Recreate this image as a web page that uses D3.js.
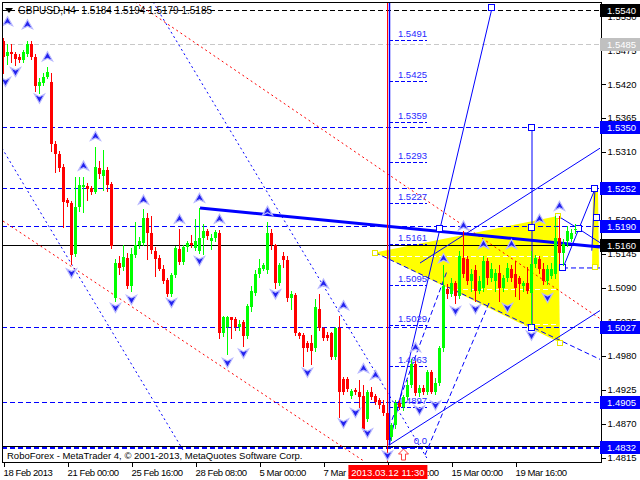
<!DOCTYPE html>
<html><head><meta charset="utf-8">
<script src="https://cdn.jsdelivr.net/npm/d3@7/dist/d3.min.js"></script>
<style>
html,body{margin:0;padding:0;background:#fff;}
svg{display:block;font-family:"Liberation Sans",Arial,sans-serif;}
</style></head><body>
<svg id="c" width="640" height="480"></svg>
<script>
// ---------- DATA (GBPUSD H4) ----------
const opens=[1.5489,1.5466,1.5472,1.5469,1.5464,1.5459,1.5468,1.5485,1.5464,1.5416,1.5421,1.5432,1.5424,1.5322,1.5306,1.5285,1.5232,1.5227,1.5145,1.5221,1.5253,1.5254,1.5251,1.5245,1.5284,1.5271,1.5280,1.5258,1.5074,1.5130,1.5124,1.5138,1.5093,1.5143,1.5160,1.5163,1.5203,1.5179,1.5150,1.5138,1.5121,1.5103,1.5080,1.5111,1.5153,1.5132,1.5156,1.5163,1.5155,1.5150,1.5171,1.5182,1.5166,1.5171,1.5179,1.5016,1.5027,1.5042,1.5040,1.5026,1.5034,1.5011,1.5058,1.5082,1.5113,1.5121,1.5118,1.5179,1.5160,1.5098,1.5142,1.5135,1.5074,1.5079,1.5016,1.5013,1.5000,1.5000,1.4992,1.5056,1.5024,1.5014,1.5016,1.4977,1.5024,1.4942,1.4942,1.4914,1.4924,1.4921,1.4914,1.4877,1.4921,1.4914,1.4908,1.4900,1.4887,1.4848,1.4868,1.4903,1.4896,1.4913,1.4932,1.4967,1.4919,1.4927,1.4921,1.4953,1.4921,1.4935,1.4992,1.5088,1.5080,1.5098,1.5077,1.5138,1.5137,1.5101,1.5118,1.5085,1.5090,1.5134,1.5105,1.5101,1.5114,1.5090,1.5106,1.5121,1.5113,1.5105,1.5093,1.5098,1.5082,1.5129,1.5137,1.5121,1.5101,1.5109,1.5113,1.5171,1.5146,1.5166,1.5169,1.5184];
const highs=[1.5495,1.5484,1.5484,1.5472,1.5469,1.5475,1.5489,1.5490,1.5468,1.5429,1.5437,1.5448,1.5437,1.5327,1.5311,1.5290,1.5235,1.5230,1.5269,1.5269,1.5269,1.5259,1.5254,1.5318,1.5295,1.5313,1.5285,1.5261,1.5137,1.5142,1.5160,1.5146,1.5155,1.5197,1.5172,1.5218,1.5211,1.5206,1.5156,1.5143,1.5126,1.5106,1.5114,1.5158,1.5185,1.5160,1.5166,1.5176,1.5201,1.5219,1.5193,1.5185,1.5177,1.5184,1.5184,1.5045,1.5045,1.5043,1.5043,1.5037,1.5037,1.5064,1.5093,1.5118,1.5137,1.5130,1.5197,1.5185,1.5161,1.5130,1.5148,1.5142,1.5085,1.5082,1.5019,1.5016,1.5003,1.5013,1.5071,1.5080,1.5027,1.5018,1.5019,1.5027,1.5045,1.4945,1.4945,1.4926,1.4927,1.4940,1.4932,1.4924,1.4929,1.4918,1.4911,1.4908,1.4892,1.4871,1.4908,1.4908,1.4916,1.4940,1.4975,1.4971,1.4932,1.4932,1.4956,1.4956,1.4943,1.4996,1.5126,1.5096,1.5105,1.5101,1.5150,1.5182,1.5142,1.5121,1.5126,1.5109,1.5142,1.5138,1.5130,1.5121,1.5126,1.5111,1.5130,1.5126,1.5134,1.5109,1.5101,1.5124,1.5150,1.5143,1.5142,1.5130,1.5126,1.5130,1.5206,1.5206,1.5169,1.5190,1.5185,1.5194];
const lows=[1.5437,1.5453,1.5456,1.5451,1.5456,1.5456,1.5466,1.5461,1.5408,1.5405,1.5418,1.5429,1.5311,1.5277,1.5279,1.5188,1.5222,1.5129,1.5142,1.5214,1.5213,1.5232,1.5242,1.5243,1.5268,1.5248,1.5247,1.5155,1.5069,1.5113,1.5118,1.5090,1.5085,1.5140,1.5155,1.5160,1.5137,1.5146,1.5109,1.5118,1.5098,1.5077,1.5077,1.5108,1.5129,1.5129,1.5150,1.5156,1.5151,1.5146,1.5145,1.5169,1.5153,1.5166,1.5009,1.5011,1.4983,1.5009,1.5021,1.5021,1.4995,1.5008,1.5053,1.5079,1.5108,1.5118,1.5114,1.5153,1.5090,1.5095,1.5124,1.5069,1.5056,1.5013,1.5008,1.4963,1.4988,1.4966,1.4988,1.5021,1.5006,1.5006,1.4974,1.4974,1.4880,1.4918,1.4922,1.4911,1.4918,1.4896,1.4858,1.4874,1.4909,1.4901,1.4895,1.4884,1.4832,1.4843,1.4863,1.4893,1.4892,1.4909,1.4929,1.4916,1.4914,1.4918,1.4918,1.4919,1.4918,1.4932,1.4988,1.5074,1.5077,1.5066,1.5074,1.5108,1.5096,1.5085,1.5069,1.5082,1.5085,1.5096,1.5101,1.5085,1.5069,1.5085,1.5101,1.5101,1.5077,1.5072,1.5085,1.5082,1.5032,1.5124,1.5114,1.5096,1.5096,1.5105,1.5105,1.5130,1.5126,1.5158,1.5166,1.5179];
const closes=[1.5464,1.5472,1.5468,1.5461,1.5459,1.5472,1.5485,1.5464,1.5416,1.5424,1.5432,1.5440,1.5322,1.5306,1.5284,1.5229,1.5227,1.5143,1.5221,1.5256,1.5256,1.5250,1.5245,1.5285,1.5274,1.5280,1.5256,1.5158,1.5130,1.5122,1.5140,1.5093,1.5145,1.5160,1.5166,1.5203,1.5179,1.5151,1.5137,1.5121,1.5101,1.5080,1.5111,1.5155,1.5132,1.5156,1.5163,1.5160,1.5166,1.5171,1.5182,1.5174,1.5171,1.5180,1.5016,1.5042,1.5042,1.5038,1.5027,1.5032,1.5011,1.5060,1.5085,1.5113,1.5122,1.5126,1.5179,1.5160,1.5098,1.5126,1.5135,1.5074,1.5080,1.5016,1.5011,1.4992,1.4992,1.4988,1.5058,1.5024,1.5009,1.5009,1.4977,1.5024,1.4921,1.4921,1.4926,1.4922,1.4921,1.4913,1.4861,1.4921,1.4913,1.4905,1.4900,1.4887,1.4843,1.4868,1.4903,1.4896,1.4913,1.4932,1.4967,1.4919,1.4927,1.4921,1.4953,1.4921,1.4935,1.4992,1.5093,1.5080,1.5098,1.5077,1.5142,1.5113,1.5101,1.5113,1.5085,1.5101,1.5134,1.5105,1.5121,1.5114,1.5090,1.5106,1.5122,1.5106,1.5090,1.5096,1.5098,1.5085,1.5129,1.5138,1.5121,1.5101,1.5121,1.5121,1.5171,1.5146,1.5161,1.5182,1.5179,1.5185];

const priceTicks=[1.5530,1.5475,1.5420,1.5365,1.5310,1.5255,1.5200,1.5145,1.5090,1.5035,1.4980,1.4925,1.4870,1.4815];
const dateTickBars=[0,16,32,48,64,80,96,112,128];
const dateLabels=["18 Feb 2013","21 Feb 00:00","25 Feb 16:00","28 Feb 08:00","5 Mar 00:00","7 Mar 16:00","12 Mar 08:00","15 Mar 00:00","19 Mar 16:00"];
const markerBar=96.1, markerLabel="2013.03.12 11:30";

const blueLevels=[1.5350,1.5252,1.5190,1.5027,1.4905,1.4832];
const blackLevels=[1.5540,1.5160];
const greyLevels=[1.5485];

const fibPrices=[1.4832,1.4897,1.4963,1.5029,1.5095,1.5161,1.5227,1.5293,1.5359,1.5425,1.5491];
const fibTexts=["0.0","1.4897","1.4963","1.5029","1.5095","1.5161","1.5227","1.5293","1.5359","1.5425","1.5491"];

const upFractalBars=[1,6,11,23,20,35,44,49,54,66,80,85,90,93,103,110,115,120,127,134,139];
const upFractalPrices=[1.5521,1.5516,1.5464,1.5335,1.5287,1.5232,1.5201,1.5235,1.5201,1.5214,1.5096,1.5061,1.4959,1.4948,1.4993,1.5137,1.5190,1.5160,1.5160,1.5201,1.5222];
const downFractalBars=[0.5,3,9,17,28,32,42,49,56,60,68,76,85,88,91,96,104,108,113,118,126,132,136];
const downFractalPrices=[1.5424,1.5440,1.5397,1.5114,1.5058,1.5071,1.5066,1.5134,1.4969,1.4984,1.5080,1.4953,1.4871,1.4888,1.4855,1.4819,1.4892,1.4900,1.5053,1.5056,1.5058,1.5013,1.5074];
const buySignal=[100,1.4819];

// objects: [bar1, price1, bar2, price2]
const trendThick=[49.25,1.5219,149.25,1.5156];
const redDotLines=[[33,1.5553,149.25,1.5040],[0,1.5198,90.5,1.4808]];
const blueDotLines=[[37.5,1.5553,106.25,1.4811],[-0.25,1.5316,45.75,1.4819]];
const blueSolidLines=[[96.5,1.4835,122.25,1.5543],[96.5,1.4835,149.25,1.5053],[104.25,1.5130,149.25,1.5316],
  [132.25,1.5348,132.25,1.5024],[138.75,1.5206,144,1.5185],[144,1.5185,149.25,1.5163],[140,1.5122,148,1.5250],[148,1.5250,147.2,1.5150]];
const blueDashLines=[[97.25,1.4876,111,1.5117],[105.5,1.4819,121.75,1.5069],[93,1.5147,149.25,1.4974],[140,1.5122,149.25,1.5122]];
const triangle=[[93,1.5147],[138.75,1.5206],[139.25,1.5001]];
const strip=[[147.5,1.5247],[148.75,1.5247],[149,1.5124],[147.25,1.5124]];
const triInnerLevels=[1.5142,1.5088,1.5032];
const blueSquares=[[122.25,1.5543],[132.25,1.5348],[132.25,1.5187],[132.25,1.5024],[109.25,1.5185],[140,1.5122],[144,1.5185],[148,1.5250],[148.5,1.5203]];
const yellowSquares=[[93,1.5147],[138.75,1.5206],[139.25,1.5001],[148,1.5124]];
const fibStartBar=96.5, fibEndBar=106;
const redLineBar=96, blueVLine=[96.5,1.5560,1.4835];

// ---------- DRAW ----------
const svg=d3.select("#c");
const L=2,T=2,R=601,B=462;
const xs=d3.scaleLinear().domain([0,143]).range([3,575]);
const ys=d3.scaleLinear().domain([1.4815,1.5540]).range([457.5,9.9]);
const X=i=>Math.round(xs(i));
const Y=p=>Math.round(ys(p));

svg.append("rect").attr("width",640).attr("height",480).attr("fill","#fff");
svg.append("defs").append("clipPath").attr("id","clip").append("rect").attr("x",L).attr("y",T).attr("width",R-L).attr("height",B-T);

const og=svg.append("g").attr("clip-path","url(#clip)");
og.append("polygon").attr("points",triangle.map(d=>xs(d[0])+","+ys(d[1])).join(" ")).attr("fill","#ffff00");
og.append("polygon").attr("points",strip.map(d=>xs(d[0])+","+ys(d[1])).join(" ")).attr("fill","#ffff00");
og.selectAll("line.ti").data(triInnerLevels).join("line").attr("x1",xs(triangle[0][0])).attr("x2",xs(triangle[1][0])).attr("y1",d=>Y(d)+0.5).attr("y2",d=>Y(d)+0.5).attr("stroke","#fff").attr("stroke-dasharray","5,3");

const hl=og.append("g").attr("shape-rendering","crispEdges");
hl.selectAll("line.bl").data(blueLevels).join("line").attr("x1",L).attr("x2",R).attr("y1",d=>Y(d)+0.5).attr("y2",d=>Y(d)+0.5).attr("stroke","#0000ff").attr("stroke-width",(d,i)=>i===blueLevels.length-1?2:1).attr("stroke-dasharray","5,3");
hl.append("line").attr("x1",L).attr("x2",R).attr("y1",Y(blackLevels[0])+0.5).attr("y2",Y(blackLevels[0])+0.5).attr("stroke","#000").attr("stroke-dasharray","5,3");
hl.append("line").attr("x1",L).attr("x2",R).attr("y1",Y(blackLevels[1])+0.5).attr("y2",Y(blackLevels[1])+0.5).attr("stroke","#000");
hl.append("line").attr("x1",L).attr("x2",R).attr("y1",Y(blueLevels[5])-0.5).attr("y2",Y(blueLevels[5])-0.5).attr("stroke","#000");
hl.selectAll("line.gl").data(greyLevels).join("line").attr("x1",L).attr("x2",R).attr("y1",d=>Y(d)+0.5).attr("y2",d=>Y(d)+0.5).attr("stroke","#c8c8c8").attr("stroke-dasharray","5,3");

const seg=(g,arr,color,dash,w)=>g.selectAll(null).data(arr).join("line")
  .attr("x1",d=>xs(d[0])).attr("y1",d=>ys(d[1])).attr("x2",d=>xs(d[2])).attr("y2",d=>ys(d[3]))
  .attr("stroke",color).attr("stroke-width",w||1).attr("stroke-dasharray",dash);
seg(og,redDotLines,"#ff0000","2,3");
seg(og,blueDotLines,"#0000ff","2,3");
seg(og,blueDashLines,"#0000ff","5,3");
seg(og,blueSolidLines,"#0000ff",null);
seg(og,[trendThick],"#0000ff",null,3);

og.append("line").attr("x1",X(redLineBar)+0.5).attr("x2",X(redLineBar)+0.5).attr("y1",T).attr("y2",B).attr("stroke","#ff0000");
og.append("line").attr("x1",xs(blueVLine[0])+0.5).attr("x2",xs(blueVLine[0])+0.5).attr("y1",ys(blueVLine[1])).attr("y2",ys(blueVLine[2])).attr("stroke","#0000ff").attr("stroke-width",1.5);

const fg=og.append("g");
fg.selectAll("line").data(fibPrices).join("line").attr("x1",xs(fibStartBar)).attr("x2",xs(fibEndBar)).attr("y1",d=>Y(d)+0.5).attr("y2",d=>Y(d)+0.5).attr("stroke","#0000ff").attr("stroke-dasharray","4,2").attr("shape-rendering","crispEdges");
fg.selectAll("text").data(fibPrices).join("text").attr("x",xs(fibEndBar)).attr("y",d=>Y(d)-3).attr("text-anchor","end").attr("font-size","9.5px").attr("fill","#2a2aff").text((d,i)=>fibTexts[i]);

og.selectAll("rect.bs").data(blueSquares).join("rect").attr("x",d=>Math.round(xs(d[0]))-3.5).attr("y",d=>Y(d[1])-3.5).attr("width",6).attr("height",6).attr("fill","#fff").attr("stroke","#0000ff");
og.selectAll("rect.ys").data(yellowSquares).join("rect").attr("x",d=>Math.round(xs(d[0]))-2.5).attr("y",d=>Y(d[1])-2.5).attr("width",5).attr("height",5).attr("fill","#fff").attr("stroke","#e8e800");

// candles
const bars=d3.range(opens.length).map(i=>({i,o:opens[i],h:highs[i],l:lows[i],c:closes[i]}));
const cg=svg.append("g").attr("clip-path","url(#clip)").attr("shape-rendering","crispEdges");
const col=d=>d.c>=d.o?"#00ff00":"#ff0000";
cg.selectAll("line").data(bars).join("line").attr("x1",d=>X(d.i)+0.5).attr("x2",d=>X(d.i)+0.5).attr("y1",d=>Y(d.h)).attr("y2",d=>Y(d.l)+1).attr("stroke",col);
cg.selectAll("rect").data(bars).join("rect").attr("x",d=>X(d.i)-1).attr("width",3).attr("y",d=>Math.min(Y(d.o),Y(d.c))).attr("height",d=>Math.max(1,Math.abs(Y(d.o)-Y(d.c)))).attr("fill",col);

// fractals
const ag=svg.append("g").attr("clip-path","url(#clip)");
ag.selectAll("path.up").data(upFractalBars.map((b,i)=>[b,upFractalPrices[i]])).join("path")
  .attr("transform",d=>`translate(${xs(d[0])+0.5},${ys(d[1])})`).attr("d","M0,-5L5,4L0,1.5L-5,4Z").attr("fill","#2222ee").attr("stroke","#b8b8ff").attr("stroke-width",1.2);
ag.selectAll("path.dn").data(downFractalBars.map((b,i)=>[b,downFractalPrices[i]])).join("path")
  .attr("transform",d=>`translate(${xs(d[0])+0.5},${ys(d[1])})`).attr("d","M0,5L5,-4L0,-1.5L-5,-4Z").attr("fill","#2222ee").attr("stroke","#b8b8ff").attr("stroke-width",1.2);
ag.append("path").attr("transform",`translate(${xs(buySignal[0])+0.5},${ys(buySignal[1])})`).attr("d","M0,-6L5,-1L2,-1L2,5L-2,5L-2,-1L-5,-1Z").attr("fill","#fff").attr("stroke","#ff4040");

// copyright
svg.append("rect").attr("x",3).attr("y",450).attr("width",299).attr("height",11).attr("fill","#fff");
svg.append("text").attr("x",7).attr("y",459).attr("font-size","9.5px").attr("fill","#000").text("RoboForex - MetaTrader 4, © 2001-2013, MetaQuotes Software Corp.");

// frame
svg.append("rect").attr("x",L+0.5).attr("y",T+0.5).attr("width",R-L).attr("height",B-T).attr("fill","none").attr("stroke","#000").attr("shape-rendering","crispEdges");

// right axis
const ya=svg.append("g").attr("transform",`translate(${R+0.5},0)`).call(d3.axisRight(ys).tickValues(priceTicks).tickSize(4).tickPadding(2).tickFormat(d3.format(".4f")));
ya.select(".domain").remove();
ya.selectAll("line").attr("stroke","#000").attr("shape-rendering","crispEdges");
ya.selectAll("text").attr("font-size","9.5px").attr("fill","#000").attr("font-family","Liberation Sans, Arial, sans-serif");

// bottom axis
const xa=svg.append("g").attr("transform",`translate(0,${B+0.5})`).call(d3.axisBottom(xs).tickValues(dateTickBars).tickSize(4).tickPadding(3).tickFormat((d,i)=>dateLabels[i]));
xa.select(".domain").remove();
xa.selectAll("line").attr("stroke","#000").attr("transform","translate(0.5,0)").attr("shape-rendering","crispEdges");
xa.selectAll("text").attr("text-anchor","start").attr("x",0).attr("font-size","9.5px").attr("letter-spacing","-0.4px").attr("fill","#000").attr("font-family","Liberation Sans, Arial, sans-serif");

// price label boxes
const boxes=[].concat(blueLevels.map(p=>[p,"#0000ff"]),blackLevels.map(p=>[p,"#000000"]),greyLevels.map(p=>[p,"#c0c0c0"]));
const bg=svg.append("g");
bg.selectAll("rect").data(boxes).join("rect").attr("x",R-1).attr("y",d=>Y(d[0])-6).attr("width",640-R+1).attr("height",13).attr("fill",d=>d[1]);
bg.selectAll("text").data(boxes).join("text").attr("x",R+6).attr("y",d=>Y(d[0])+4).attr("font-size","9.5px").attr("fill","#fff").text(d=>d3.format(".4f")(d[0]));

// time marker label
const mx=xs(markerBar);
svg.append("rect").attr("x",mx-39).attr("y",465).attr("width",79).attr("height",14).attr("fill","#ff0000");
svg.append("text").attr("x",mx+0.5).attr("y",475.5).attr("text-anchor","middle").attr("font-size","9.5px").attr("fill","#fff").text(markerLabel);

// header
svg.append("path").attr("d","M5,8L13,8L9,13Z").attr("fill","#000");
svg.append("text").attr("x",18).attr("y",14).attr("font-size","10px").attr("fill","#000").style("white-space","pre").text("GBPUSD,H4  1.5184 1.5194 1.5179 1.5185");
</script>
</body></html>
